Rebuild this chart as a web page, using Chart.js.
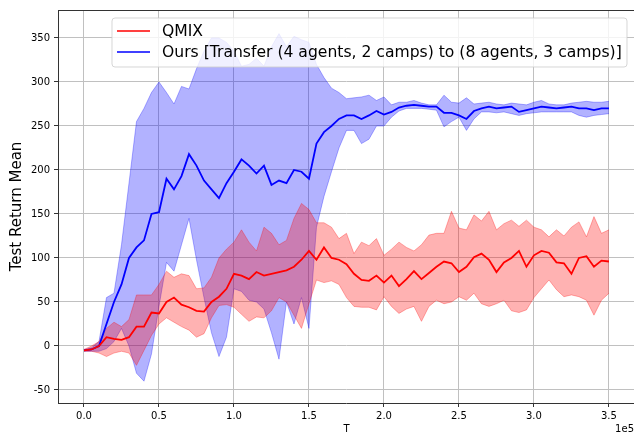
<!DOCTYPE html>
<html>
<head>
<meta charset="utf-8">
<script src="https://cdn.jsdelivr.net/npm/chart.js@4.4.1/dist/chart.umd.min.js"></script>
<style>
  html, body { margin: 0; padding: 0; background: #fff; overflow: hidden; }
  #wrap { width: 634px; height: 435px; position: relative; }
</style>
</head>
<body>
<div id="wrap"><canvas id="chart" width="634" height="435"></canvas></div>
<script>
// Timesteps (T), one sample every 5000 steps
const steps = [0, 5000, 10000, 15000, 20000, 25000, 30000, 35000, 40000, 45000,
  50000, 55000, 60000, 65000, 70000, 75000, 80000, 85000, 90000, 95000,
  100000, 105000, 110000, 115000, 120000, 125000, 130000, 135000, 140000, 145000,
  150000, 155000, 160000, 165000, 170000, 175000, 180000, 185000, 190000, 195000,
  200000, 205000, 210000, 215000, 220000, 225000, 230000, 235000, 240000, 245000,
  250000, 255000, 260000, 265000, 270000, 275000, 280000, 285000, 290000, 295000,
  300000, 305000, 310000, 315000, 320000, 325000, 330000, 335000, 340000, 345000, 350000];

// QMIX
const qmixMean = [-5, -4, 0, 10, 8, 7, 10, 22, 22, 38, 37, 50, 55, 47, 44, 40, 39, 50, 56, 65,
  82, 80, 76, 84, 80, 82, 84, 86, 90, 98, 108, 98, 112, 100, 98, 93, 82, 75, 74, 80,
  72, 80, 68, 76, 85, 76, 83, 90, 96, 94, 84, 90, 101, 105, 98, 84, 95, 100, 108, 90,
  103, 108, 106, 95, 94, 82, 100, 102, 90, 97, 96];
const qmixUpper = [-4, 0, 5, 20, 27, 22, 30, 58, 58, 58, 70, 85, 78, 82, 80, 65, 66, 78, 100, 110,
  118, 132, 118, 108, 135, 128, 115, 120, 145, 162, 155, 140, 140, 135, 122, 128, 105, 118, 114, 122,
  103, 110, 118, 112, 108, 115, 126, 128, 128, 153, 134, 132, 149, 142, 153, 132, 139, 143, 136, 143,
  135, 132, 124, 132, 125, 135, 141, 124, 147, 128, 132];
const qmixLower = [-6, -6, -8, -12, -8, -6, -8, -22, -5, 12, 25, 32, 27, 22, 18, 10, 14, 32, 46, 47,
  44, 36, 28, 33, 32, 40, 55, 50, 35, 20, 48, 75, 72, 74, 70, 55, 45, 44, 44, 41,
  56, 45, 37, 42, 45, 28, 45, 52, 48, 50, 56, 52, 60, 48, 45, 48, 52, 40, 38, 41,
  55, 65, 75, 64, 56, 58, 56, 52, 35, 52, 60];

// Ours (transfer)
const oursMean = [-5, -4, 0, 25, 50, 70, 100, 112, 120, 150, 152, 190, 178, 193, 218, 205, 188, 178, 168, 185,
  198, 212, 205, 196, 205, 183, 188, 185, 200, 198, 190, 230, 243, 250, 258, 262, 262, 258, 262, 267,
  263, 266, 271, 273, 274, 273, 272, 272, 265, 265, 262, 258, 267, 270, 272, 270, 271, 272, 266, 268,
  270, 272, 271, 270, 271, 272, 270, 270, 268, 270, 270];
const oursUpper = [-4, -2, 5, 55, 60, 115, 185, 255, 270, 288, 300, 288, 275, 295, 292, 315, 335, 350, 350, 345,
  335, 318, 320, 327, 318, 340, 355, 340, 352, 348, 345, 320, 305, 293, 288, 281, 282, 283, 285, 279,
  283, 274, 277, 277, 279, 276, 274, 274, 285, 277, 276, 282, 275, 276, 277, 275, 274, 276, 275, 274,
  277, 279, 275, 274, 274, 276, 277, 278, 277, 277, 278];
const oursLower = [-6, -6, -6, -3, 5, 20, 0, -31, -40, -9, 45, 95, 85, 115, 145, 98, 55, 15, -12, 10,
  65, 62, 52, 50, 42, 15, -15, 50, 25, 55, 20, 135, 170, 198, 225, 245, 245, 230, 235, 250,
  250, 260, 267, 270, 270, 270, 269, 268, 249, 255, 260, 245, 258, 266, 266, 265, 266, 264, 262, 264,
  265, 266, 266, 266, 266, 266, 262, 260, 262, 263, 264];

// Tick labels
const xTicks = [0, 50000, 100000, 150000, 200000, 250000, 300000, 350000];
const yTicks = [-50, 0, 50, 100, 150, 200, 250, 300, 350];

const legendLabels = ["QMIX", "Ours [Transfer (4 agents, 2 camps) to (8 agents, 3 camps)]"];
const FONT = "'DejaVu Sans', 'Liberation Sans', sans-serif";

function pts(arr) {
  return arr.map((v, i) => ({ x: steps[i], y: v }));
}

// legend box, axis titles, top spine
const overlay = {
  id: "overlay",
  afterDraw(chart) {
    const ctx = chart.ctx;
    const a = chart.chartArea;
    ctx.save();

    ctx.strokeStyle = "#333";
    ctx.lineWidth = 1;
    ctx.beginPath();
    ctx.moveTo(a.left, a.top + 0.5);
    ctx.lineTo(a.right, a.top + 0.5);
    ctx.stroke();

    // legend
    const bx = 112, by = 18, bw = 515, bh = 49, r = 3;
    ctx.beginPath();
    ctx.moveTo(bx + r, by);
    ctx.arcTo(bx + bw, by, bx + bw, by + bh, r);
    ctx.arcTo(bx + bw, by + bh, bx, by + bh, r);
    ctx.arcTo(bx, by + bh, bx, by, r);
    ctx.arcTo(bx, by, bx + bw, by, r);
    ctx.closePath();
    ctx.fillStyle = "rgba(255,255,255,0.8)";
    ctx.fill();
    ctx.strokeStyle = "rgba(204,204,204,0.8)";
    ctx.stroke();

    const colors = ["#ff0000", "#0000ff"];
    const rows = [31, 52];
    ctx.font = "15.6px " + FONT;
    ctx.textBaseline = "middle";
    ctx.textAlign = "left";
    legendLabels.forEach((label, i) => {
      ctx.strokeStyle = colors[i];
      ctx.lineWidth = 1.6;
      ctx.beginPath();
      ctx.moveTo(117, rows[i]);
      ctx.lineTo(150, rows[i]);
      ctx.stroke();
      ctx.fillStyle = "#000";
      ctx.fillText(label, 162, rows[i] + 1);
    });

    // axis titles
    ctx.fillStyle = "#000";
    ctx.font = "10px " + FONT;
    ctx.textAlign = "center";
    ctx.fillText("T", (a.left + 635) / 2, 429);
    ctx.textAlign = "right";
    ctx.fillText("1e5", 634, 429);

    ctx.translate(17, (a.top + a.bottom) / 2);
    ctx.rotate(-Math.PI / 2);
    ctx.textAlign = "center";
    ctx.font = "15px " + FONT;
    ctx.fillText("Test Return Mean", 0, 0);
    ctx.restore();
  }
};

const ctx = document.getElementById("chart").getContext("2d");
new Chart(ctx, {
  type: "line",
  data: {
    datasets: [
      { label: "QMIX", data: pts(qmixMean), borderColor: "#ff0000", borderWidth: 1.8, fill: false, order: 0 },
      { label: "Ours", data: pts(oursMean), borderColor: "#0000ff", borderWidth: 1.8, fill: false, order: 1 },
      { label: "qmix upper", data: pts(qmixUpper), borderColor: "rgba(255,0,0,0.3)", borderWidth: 1,
        backgroundColor: "rgba(255,0,0,0.3)", fill: "+1", order: 2 },
      { label: "qmix lower", data: pts(qmixLower), borderColor: "rgba(255,0,0,0.3)", borderWidth: 1, fill: false, order: 3 },
      { label: "ours upper", data: pts(oursUpper), borderColor: "rgba(0,0,255,0.3)", borderWidth: 1,
        backgroundColor: "rgba(0,0,255,0.3)", fill: "+1", order: 4 },
      { label: "ours lower", data: pts(oursLower), borderColor: "rgba(0,0,255,0.3)", borderWidth: 1, fill: false, order: 5 }
    ]
  },
  options: {
    responsive: false,
    animation: false,
    devicePixelRatio: 1,
    layout: { padding: { top: 10, left: 0, right: 0, bottom: 0 } },
    elements: { point: { radius: 0 }, line: { tension: 0 } },
    plugins: { legend: { display: false }, tooltip: { enabled: false } },
    scales: {
      x: {
        type: "linear",
        min: -17330,
        max: 366700,
        afterBuildTicks: (s) => { s.ticks = xTicks.map(v => ({ value: v })); },
        afterFit: (s) => { s.height = 32; },
        ticks: {
          callback: (v) => (v / 1e5).toFixed(1),
          font: { family: FONT, size: 10 },
          color: "#000",
          padding: 3,
          maxRotation: 0
        },
        grid: { color: "#c0c0c0", lineWidth: 1, tickLength: 4, tickColor: "#333" },
        border: { display: true, color: "#333", width: 1 }
      },
      y: {
        min: -64.8,
        max: 381.8,
        afterBuildTicks: (s) => { s.ticks = yTicks.map(v => ({ value: v })); },
        afterFit: (s) => { s.width = 58; },
        ticks: {
          font: { family: FONT, size: 10 },
          color: "#000",
          padding: 4
        },
        grid: { color: "#c0c0c0", lineWidth: 1, tickLength: 4, tickColor: "#333" },
        border: { display: true, color: "#333", width: 1 }
      }
    }
  },
  plugins: [overlay]
});
</script>
</body>
</html>
